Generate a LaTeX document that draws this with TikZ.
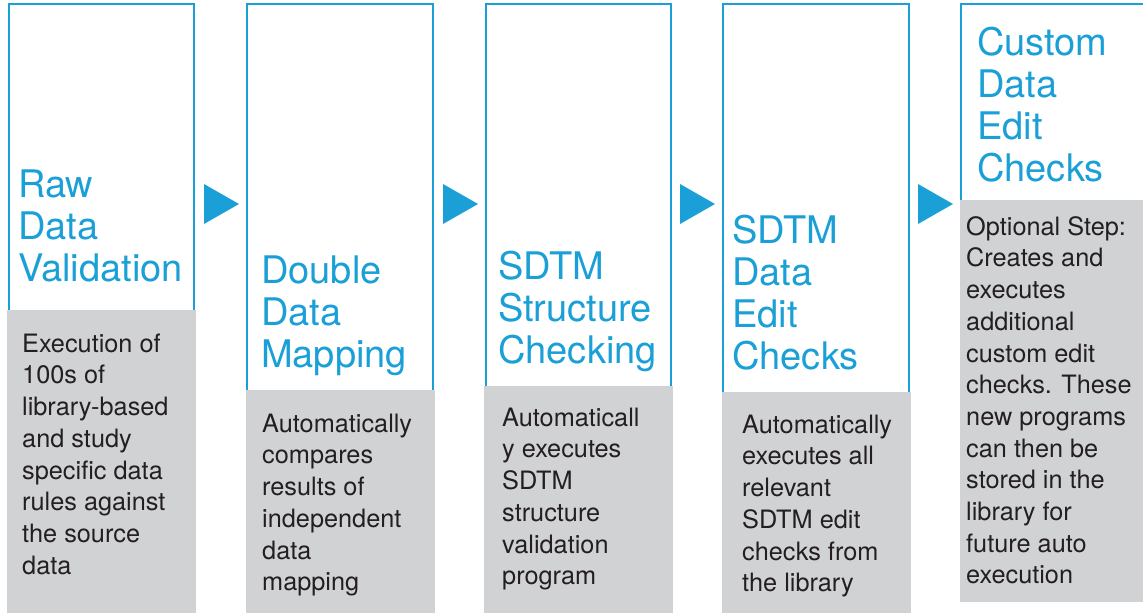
\documentclass[tikz,border=0pt]{standalone}
\usepackage{fontspec}
\setmainfont{TeX Gyre Heros}
\definecolor{stepblue}{RGB}{26,160,215}
\definecolor{stepgray}{RGB}{209,210,212}
\definecolor{steptext}{RGB}{35,31,32}
\newcommand\titlestrut{\rule{0pt}{30pt}}
\newcommand\bodystrut{\rule{0pt}{20pt}}
\begin{document}
\begin{tikzpicture}[x=1pt,y=-1pt,
  bluebox/.style={draw=stepblue, line width=2pt},
  graybox/.style={fill=stepgray},
  steptitle/.style={anchor=north west, inner sep=0pt, align=left, text=stepblue, font=\fontsize{38}{42}\selectfont},
  stepbody/.style={anchor=north west, inner sep=0pt, align=left, text=steptext, font=\fontsize{25.3}{31.7}\selectfont},
  arrowtri/.style={fill=stepblue}]
\useasboundingbox (0,0) rectangle (1143,613);
\clip (0,0) rectangle (1143,613);
\fill[white] (0,0) rectangle (1143,613);

% column 1
\draw[bluebox] (9,4) rectangle (194,320);
\fill[graybox] (7,310) rectangle (196,613);
\node[steptitle] (t1) at (18,167) {\titlestrut Raw\\Data\\Validation};
\node[stepbody] (d1) at (22,332) {\bodystrut Execution of\\100s of\\library-based\\and study\\specific data\\rules against\\the source\\data};

% column 2
\draw[bluebox] (247,4) rectangle (433,400);
\fill[graybox] (246,390) rectangle (435,613);
\node[steptitle] (t2) at (261,253) {\titlestrut Double\\Data\\Mapping};
\node[stepbody] (d2) at (262,412) {\bodystrut Automatically\\compares\\results of\\independent\\data\\mapping};

% column 3
\draw[bluebox] (486,4) rectangle (671,396);
\fill[graybox] (484,386) rectangle (673,613);
\node[steptitle] (t3) at (498,249) {\titlestrut SDTM\\Structure\\Checking};
\node[stepbody] (d3) at (502,406) {\bodystrut Automaticall\\y executes\\SDTM\\structure\\validation\\program};

% column 4
\draw[bluebox] (723,4) rectangle (909,402);
\fill[graybox] (722,392) rectangle (911,613);
\node[steptitle] (t4) at (732,213) {\titlestrut SDTM\\Data\\Edit\\Checks};
\node[stepbody] (d4) at (742,413) {\bodystrut Automatically\\executes all\\relevant\\SDTM edit\\checks from\\the library};

% column 5
\draw[bluebox] (961,4) rectangle (1170,210);
\fill[graybox] (960,200) rectangle (1143,602);
\node[steptitle] (t5) at (977,25) {\titlestrut Custom\\Data\\Edit\\Checks};
\node[stepbody] (d5) at (966,215) {\bodystrut Optional Step:\\Creates and\\executes\\additional\\custom edit\\checks. These\\new programs\\can then be\\stored in the\\library for\\future auto\\execution};

% arrows
\fill[arrowtri] (204,184) -- (239,204) -- (204,224) -- cycle;
\fill[arrowtri] (443,184) -- (478,204) -- (443,224) -- cycle;
\fill[arrowtri] (680,184) -- (715,204) -- (680,224) -- cycle;
\fill[arrowtri] (918,184) -- (953,204) -- (918,224) -- cycle;
\end{tikzpicture}
\end{document}
